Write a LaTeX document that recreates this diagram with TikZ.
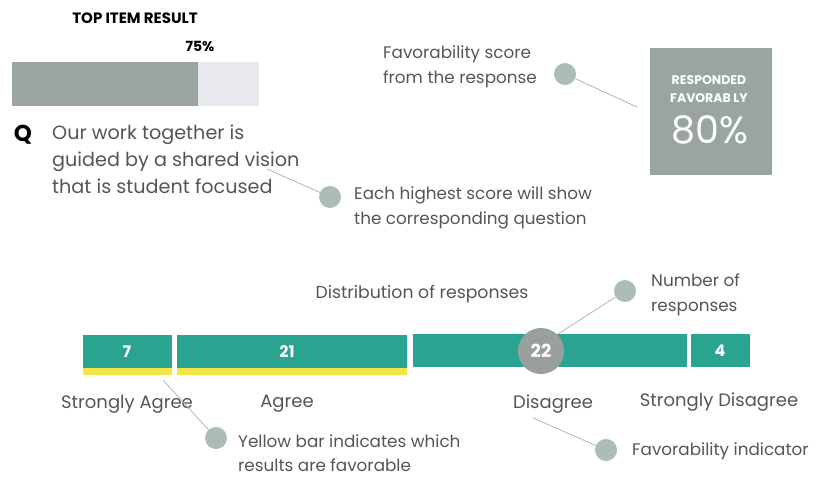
\documentclass[tikz,border=0pt]{standalone}
\usepackage{fontspec}
\setmainfont{Poppins}
\definecolor{teal1}{HTML}{2AA391}
\definecolor{yel}{HTML}{F2E64B}
\definecolor{boxgray}{HTML}{9AA5A1}
\definecolor{dotc}{HTML}{ADBDB6}
\definecolor{txt}{HTML}{555555}
\definecolor{light}{HTML}{E8E9EE}
\definecolor{circ}{HTML}{999F9C}
\definecolor{linec}{HTML}{A8BAB3}
\begin{document}
\begin{tikzpicture}[x=1pt,y=-1pt,
  lbl/.style={text=txt,font=\fontsize{18}{24}\selectfont,inner sep=0pt},
  call/.style={text=txt,inner sep=0pt,align=left,font=\fontsize{16.8}{24.5}\selectfont},
  dotn/.style={circle,fill=dotc,minimum size=22pt,inner sep=0pt},
  lead/.style={draw=linec,line width=0.8pt},
  num/.style={text=white,font=\bfseries\fontsize{16}{18}\selectfont}]
\useasboundingbox (0,0) rectangle (816,477);
% top item
\node[font=\bfseries\fontsize{15}{16}\selectfont] (title) at (135,18) {TOP ITEM RESULT};
\node[font=\bfseries\fontsize{14}{16}\selectfont] (pct) at (200,46) {75\%};
\fill[light] (12,62) rectangle (259,106);
\fill[boxgray] (12,62) rectangle (198,106);
\node[font=\bfseries\fontsize{23}{24}\selectfont] (q) at (23,135) {Q};
\node[text=txt,inner sep=0pt,anchor=north west,align=left,font=\fontsize{19.2}{27}\selectfont] (qt) at (52,125) {Our work together is\\guided by a shared vision\\that is student focused};
\coordinate (qa) at (267,169);
\node[dotn] (d1) at (330,197) {};
\draw[lead] (qa) -- (d1);
\node[call,anchor=west] (t1) at (354,208) {Each highest score will show\\the corresponding question};
% favorability box
\node[call,anchor=east] (t2) at (537,67) {Favorability score\\from the response};
\node[dotn] (d2) at (565,74) {};
\fill[boxgray] (650,48) rectangle (772,175);
\coordinate (ba) at (637,107);
\draw[lead] (d2) -- (ba);
\node[text=white,font=\bfseries\fontsize{12.5}{18}\selectfont,align=center] (resp) at (709,89) {RESPONDED\\FAVORAB LY};
\node[text=white,font=\fontsize{38}{44}\selectfont] (eighty) at (710,130) {80\%};
% distribution
\node[text=txt,inner sep=0pt,font=\fontsize{17.3}{18}\selectfont] (dist) at (422,294) {Distribution of responses};
\fill[teal1] (83,335) rectangle (172,368);
\fill[yel] (83,368) rectangle (172,375);
\fill[teal1] (177,335) rectangle (407,368);
\fill[yel] (177,368) rectangle (407,375);
\fill[teal1] (413,334) rectangle (687,367);
\fill[teal1] (691,334) rectangle (750,367);
\node[num] (n7) at (127,352) {7};
\node[num] (n21) at (287,352) {21};
\node[num] (n4) at (720,351) {4};
\node[dotn] (d3) at (625,291) {};
\coordinate (ra) at (558,334);
\draw[lead] (ra) -- (d3);
\node[circle,fill=circ,minimum size=46pt,inner sep=0pt,num,font=\bfseries\fontsize{18}{18}\selectfont] (n22) at (541,351) {22};
\node[call,anchor=west] (t3) at (651,295) {Number of\\responses};
% labels
\node[lbl] (l1) at (127,404) {Strongly Agree};
\node[lbl] (l2) at (287,404) {Agree};
\node[lbl] (l3) at (553,404) {Disagree};
\node[lbl] (l4) at (719,402) {Strongly Disagree};
\coordinate (ya) at (163,380);
\node[dotn] (d4) at (216,438) {};
\draw[lead] (ya) -- (d4);
\node[call,anchor=west,font=\fontsize{16.8}{23.5}\selectfont] (t4) at (238,453) {Yellow bar indicates which\\results are favorable};
\coordinate (fa) at (533,418);
\node[dotn] (d5) at (606,450) {};
\draw[lead] (fa) -- (d5);
\node[call,anchor=west] (t5) at (632,451) {Favorability indicator};
\end{tikzpicture}
\end{document}
